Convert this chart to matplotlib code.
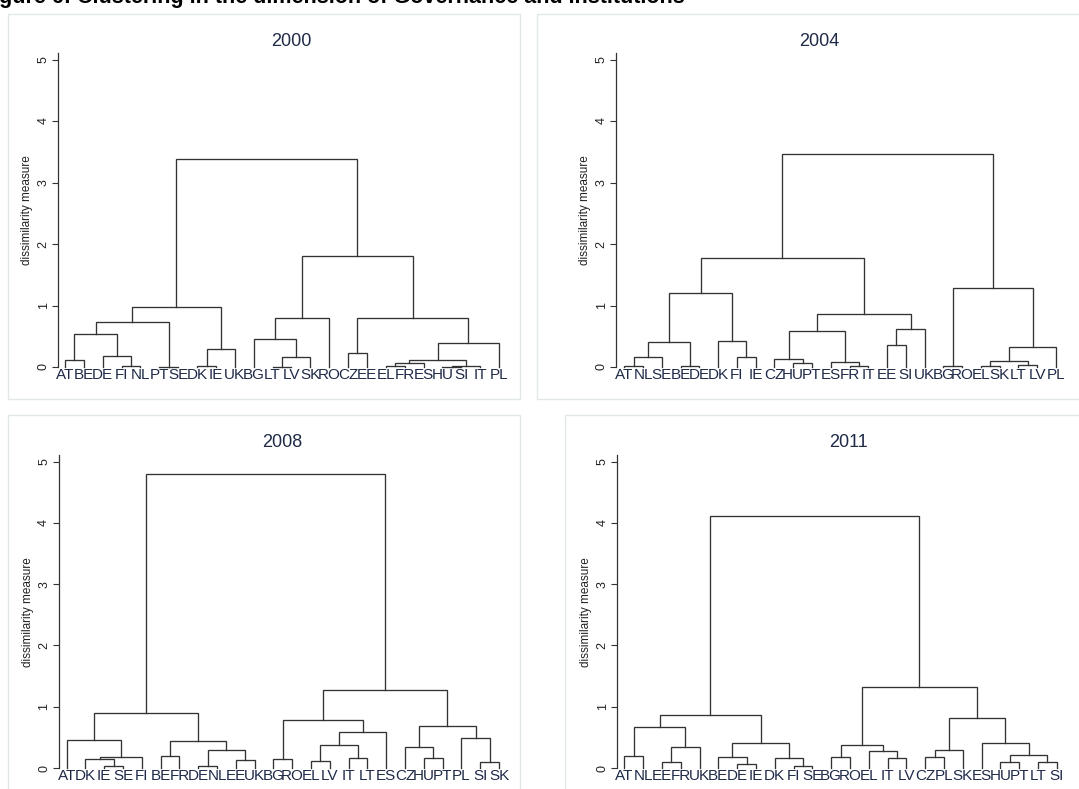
import matplotlib.pyplot as plt
from matplotlib.patches import Rectangle

plt.rcParams['font.family'] = ['Liberation Sans', 'DejaVu Sans']

W, H = 1079, 789
NAVY = '#1f2a48'
LINE = '#333333'

years = ['2000', '2004', '2008', '2011']

# leaf order along the x axis
leaves_2000 = ['AT', 'BE', 'DE', 'FI', 'NL', 'PT', 'SE', 'DK', 'IE', 'UK', 'BG', 'LT',
               'LV', 'SK', 'RO', 'CZ', 'EE', 'EL', 'FR', 'ES', 'HU', 'SI', 'IT', 'PL']
leaves_2004 = ['AT', 'NL', 'SE', 'BE', 'DE', 'DK', 'FI', 'IE', 'CZ', 'HU', 'PT', 'ES',
               'FR', 'IT', 'EE', 'SI', 'UK', 'BG', 'RO', 'EL', 'SK', 'LT', 'LV', 'PL']
leaves_2008 = ['AT', 'DK', 'IE', 'SE', 'FI', 'BE', 'FR', 'DE', 'NL', 'EE', 'UK', 'BG',
               'RO', 'EL', 'LV', 'IT', 'LT', 'ES', 'CZ', 'HU', 'PT', 'PL', 'SI', 'SK']
leaves_2011 = ['AT', 'NL', 'EE', 'FR', 'UK', 'BE', 'DE', 'IE', 'DK', 'FI', 'SE', 'BG',
               'RO', 'EL', 'IT', 'LV', 'CZ', 'PL', 'SK', 'ES', 'HU', 'PT', 'LT', 'SI']

# merges: (left, right, height); left/right is a country code or the index of an earlier merge
merges_2000 = [
    ('AT', 'BE', 0.11), ('FI', 'NL', 0.01), ('DE', 1, 0.18), (0, 2, 0.53),
    ('PT', 'SE', 0.005), (3, 4, 0.73), ('DK', 'IE', 0.01), (6, 'UK', 0.29),
    (5, 7, 0.97), ('LT', 'LV', 0.005), (9, 'SK', 0.16), ('BG', 10, 0.46),
    (11, 'RO', 0.79), ('CZ', 'EE', 0.23), ('EL', 'FR', 0.01), (14, 'ES', 0.06),
    ('HU', 'SI', 0.003), (16, 'IT', 0.01), (15, 17, 0.11), (18, 'PL', 0.39),
    (13, 19, 0.80), (12, 20, 1.81), (8, 21, 3.38),
]
merges_2004 = [
    ('AT', 'NL', 0.02), (0, 'SE', 0.16), ('BE', 'DE', 0.02), (1, 2, 0.41),
    ('FI', 'IE', 0.17), ('DK', 4, 0.42), (3, 5, 1.20), ('HU', 'PT', 0.06),
    ('CZ', 7, 0.13), ('FR', 'IT', 0.01), ('ES', 9, 0.08), (8, 10, 0.59),
    ('EE', 'SI', 0.35), (12, 'UK', 0.62), (11, 13, 0.86), (6, 14, 1.78),
    ('BG', 'RO', 0.01), ('EL', 'SK', 0.02), ('LT', 'LV', 0.04), (17, 18, 0.09),
    (19, 'PL', 0.32), (16, 20, 1.28), (15, 21, 3.46),
]
merges_2008 = [
    ('IE', 'SE', 0.04), ('DK', 0, 0.14), (1, 'FI', 0.18), ('AT', 2, 0.46),
    ('BE', 'FR', 0.20), ('DE', 'NL', 0.04), ('EE', 'UK', 0.13), (5, 6, 0.30),
    (4, 7, 0.44), (3, 8, 0.90), ('BG', 'RO', 0.15), ('EL', 'LV', 0.12),
    ('IT', 'LT', 0.16), (11, 12, 0.37), (13, 'ES', 0.58), (10, 14, 0.79),
    ('HU', 'PT', 0.16), ('CZ', 16, 0.35), ('SI', 'SK', 0.10), ('PL', 18, 0.49),
    (17, 19, 0.68), (15, 20, 1.28), (9, 21, 4.79),
]
merges_2011 = [
    ('AT', 'NL', 0.20), ('EE', 'FR', 0.10), (1, 'UK', 0.34), (0, 2, 0.67),
    ('DE', 'IE', 0.07), ('BE', 4, 0.18), ('FI', 'SE', 0.04), ('DK', 6, 0.17),
    (5, 7, 0.41), (3, 8, 0.87), ('BG', 'RO', 0.18), ('IT', 'LV', 0.16),
    ('EL', 11, 0.27), (10, 12, 0.37), ('CZ', 'PL', 0.18), (14, 'SK', 0.30),
    ('HU', 'PT', 0.10), ('LT', 'SI', 0.10), (16, 17, 0.22), ('ES', 18, 0.41),
    (15, 19, 0.81), (13, 20, 1.32), (9, 21, 4.11),
]

leaves = [leaves_2000, leaves_2004, leaves_2008, leaves_2011]
merges = [merges_2000, merges_2004, merges_2008, merges_2011]

# pixel layout of each panel: spine x, right edge, first leaf x, last leaf x, y of 0, px per unit
layout = [
    (58, 520, 65.0, 499.0, 367.0, 61.5),
    (616, 1079, 624.3, 1056.0, 367.0, 61.5),
    (58.5, 520, 66.7, 499.0, 768.0, 61.3),
    (617, 1079, 624.3, 1056.7, 768.0, 61.3),
]
title_pos = [(291.7, 46), (819, 46), (282.7, 447.3), (849, 447.3)]
frames = [(8, 14, 520, 399), (537, 14, 1085, 399), (8, 415, 520, 795), (565, 415, 1085, 795)]
YTOP = 5.1

fig = plt.figure(figsize=(W / 100, H / 100), dpi=100)

for x0, y0, x1, y1 in frames:
    fig.patches.append(Rectangle((x0 / W, 1 - y1 / H), (x1 - x0) / W, (y1 - y0) / H,
                                 transform=fig.transFigure, fill=False,
                                 edgecolor='#e2e8e8', lw=1.0))


def draw_tree(ax, names, steps):
    pos = {n: i for i, n in enumerate(names)}
    xs, hs = [], []

    def node(k):
        if isinstance(k, str):
            return pos[k], 0.0
        return xs[k], hs[k]

    for a, b, h in steps:
        xa, ha = node(a)
        xb, hb = node(b)
        ax.plot([xa, xa, xb, xb], [ha, h, h, hb], color=LINE, lw=0.95,
                solid_joinstyle='miter', clip_on=False)
        xs.append((xa + xb) / 2)
        hs.append(h)


for i, year in enumerate(years):
    L, R, first, last, base, unit = layout[i]
    n = len(leaves[i])
    step = (last - first) / (n - 1)
    top = base - YTOP * unit
    ax = fig.add_axes([L / W, 1 - base / H, (R - L) / W, (base - top) / H])
    ax.set_xlim(-(first - L) / step, (n - 1) + (R - last) / step)
    ax.set_ylim(0, YTOP)
    draw_tree(ax, leaves[i], merges[i])

    for s in ['top', 'right', 'bottom']:
        ax.spines[s].set_visible(False)
    ax.spines['left'].set_color(LINE)
    ax.spines['left'].set_linewidth(0.9)
    ax.patch.set_alpha(0)

    ax.set_xticks(range(n))
    ax.set_xticklabels(leaves[i], fontsize=11, color=NAVY)
    ax.tick_params(axis='x', length=0, pad=1)

    ax.set_yticks(range(6))
    ax.set_yticklabels([str(v) for v in range(6)], fontsize=9, rotation=90,
                       va='center', color='#222222')
    ax.tick_params(axis='y', length=4, width=0.8, color=LINE, pad=2)

    ax.set_ylabel('dissimilarity measure', fontsize=8.5, color='#222222')
    ax.yaxis.set_label_coords(-25 / (R - L), 0.5)

    tx, ty = title_pos[i]
    fig.text(tx / W, 1 - ty / H, year, fontsize=13, color=NAVY,
             ha='center', va='baseline')

fig.text(-19.5 / W, 1 - 3.3 / H,
         'Figure 6: Clustering in the dimension of Governance and Institutions',
         fontsize=15.5, fontweight='bold', color='black', va='baseline', ha='left')

fig.savefig('out.png', dpi=100)
